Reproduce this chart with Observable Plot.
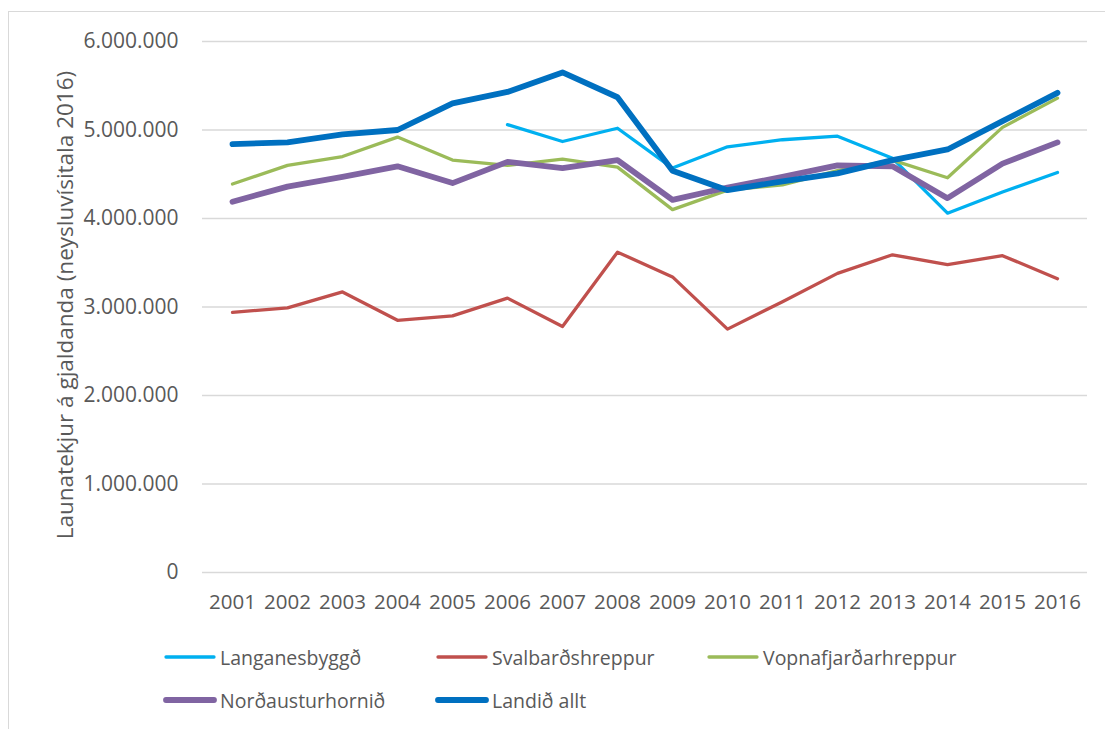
<!DOCTYPE html>
<html>
<head>
<meta charset="utf-8">
<script src="https://cdn.jsdelivr.net/npm/d3@7"></script>
<script src="https://cdn.jsdelivr.net/npm/@observablehq/plot@0.6"></script>
<style>
  html, body { margin: 0; padding: 0; background: #fff; overflow: hidden; }
  body { width: 1105px; height: 729px; position: relative; font-family: "Open Sans", "Liberation Sans", Arial, sans-serif; }
  #frame { position: absolute; left: 8px; top: 11px; width: 1300px; height: 900px; border: 1.5px solid #d9d9d9; box-sizing: border-box; }
  #chart { position: absolute; left: 0; top: 0; }
  .leg { position: absolute; display: flex; align-items: center; font-size: 19.5px; color: #595959; white-space: nowrap; }
  .leg svg { margin-right: 3px; }
</style>
</head>
<body>
<div id="frame"></div>
<div id="chart"></div>
<div id="legend"></div>
<script>
const years = [2001,2002,2003,2004,2005,2006,2007,2008,2009,2010,2011,2012,2013,2014,2015,2016];
const seriesNames = ["Langanesbyggð","Svalbarðshreppur","Vopnafjarðarhreppur","Norðausturhornið","Landið allt"];
const langanesbyggd = [null,null,null,null,null,5060000,4870000,5020000,4570000,4810000,4890000,4930000,4680000,4060000,4300000,4520000];
const svalbardshreppur = [2940000,2990000,3170000,2850000,2900000,3100000,2780000,3620000,3340000,2750000,3060000,3380000,3590000,3480000,3580000,3320000];
const vopnafjardarhreppur = [4390000,4600000,4700000,4920000,4660000,4600000,4670000,4580000,4100000,4320000,4380000,4540000,4660000,4460000,5030000,5360000];
const nordausturhornid = [4190000,4360000,4470000,4590000,4400000,4640000,4570000,4660000,4210000,4350000,4470000,4600000,4590000,4230000,4620000,4860000];
const landidAllt = [4840000,4860000,4950000,5000000,5300000,5430000,5650000,5370000,4540000,4320000,4420000,4510000,4660000,4780000,5100000,5420000];
const yTicks = [0,1000000,2000000,3000000,4000000,5000000,6000000];
const yLabel = "Launatekjur á gjaldanda (neysluvísitala 2016)";

const colors = ["#00B0F0","#C0504D","#9BBB59","#8064A2","#0070C0"];
const widths = [3.3,3.3,3.3,5.8,5.8];
const valueArrays = [langanesbyggd, svalbardshreppur, vopnafjardarhreppur, nordausturhornid, landidAllt];

const rows = [];
valueArrays.forEach((arr, si) => {
  arr.forEach((v, i) => { if (v != null) rows.push({series: seriesNames[si], year: years[i], value: v}); });
});

const fmt = v => d3.format(",")(v).replace(/,/g, ".");

const marks = [
  Plot.gridY(yTicks, {stroke: "#d9d9d9", strokeOpacity: 1, strokeWidth: 1.5}),
  Plot.axisY(yTicks, {tickSize: 0, tickPadding: 24, tickFormat: fmt, fontSize: 21, fill: "#595959", label: null}),
  Plot.axisX(years, {tickSize: 0, tickPadding: 22, tickFormat: d => String(d), fontSize: 20.5, fill: "#595959", label: null}),
  Plot.text([yLabel], {frameAnchor: "left", rotate: -90, dx: -137, dy: -2, textAnchor: "middle", fontSize: 22.5, fill: "#595959"})
];
seriesNames.forEach((name, si) => {
  marks.push(Plot.line(rows.filter(r => r.series === name), {
    x: "year", y: "value", stroke: colors[si], strokeWidth: widths[si],
    strokeLinecap: "round", strokeLinejoin: "round"
  }));
});

const chart = Plot.plot({
  width: 1105,
  height: 630,
  marginLeft: 202,
  marginRight: 18,
  marginTop: 41,
  marginBottom: 58,
  style: {fontFamily: "Open Sans, Liberation Sans, Arial, sans-serif", background: "transparent", overflow: "visible"},
  x: {type: "point", domain: years, padding: 0.5, axis: null},
  y: {domain: [0, 6000000], axis: null},
  marks
});
document.getElementById("chart").appendChild(chart);

// legend
const legendPos = [[163,657],[435,657],[706,657],[163,700],[435,700]];
const legend = document.getElementById("legend");
seriesNames.forEach((name, i) => {
  const d = document.createElement("div");
  d.className = "leg";
  d.style.left = legendPos[i][0] + "px";
  d.style.top = (legendPos[i][1] - 14) + "px";
  d.style.height = "28px";
  d.innerHTML = `<svg width="54" height="10"><line x1="3" y1="5" x2="51" y2="5" stroke="${colors[i]}" stroke-width="${widths[i]}" stroke-linecap="round"/></svg><span>${name}</span>`;
  legend.appendChild(d);
});
</script>
</body>
</html>
